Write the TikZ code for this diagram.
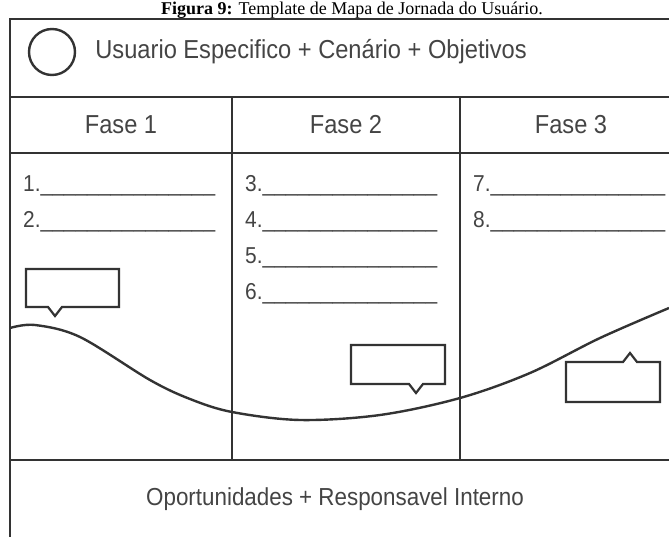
\documentclass[tikz,border=0pt]{standalone}
\usepackage{fontspec}
\newfontfamily\condensada[FakeStretch=0.91]{Liberation Sans}
\newfontfamily\serifa{Liberation Serif}
\usetikzlibrary{positioning}

\definecolor{traco}{HTML}{333333}
\definecolor{texto}{HTML}{444444}

\newcommand{\linha}{\_\_\_\_\_\_\_\_\_\_\_\_\_\_\_}

\begin{document}
\begin{tikzpicture}[x=1pt,y=-1pt,
grade/.style={draw=traco,line width=2.4pt},
balao/.style={draw=traco,line width=2.2pt,line join=miter},
rotulo/.style={text=texto,inner sep=0pt,font=\condensada\fontsize{26}{30}\selectfont},
fase/.style={rotulo},
item/.style={text=texto,inner sep=0pt,anchor=west,font=\condensada\fontsize{23}{27}\selectfont}]
\useasboundingbox (0,0) rectangle (669,537);
\clip (0,0) rectangle (669,537);

% legenda no alto
\node [anchor=base,font=\serifa\fontsize{18}{22}\selectfont] (legenda) at (352,15)
  {\textbf{Figura 9:} Template de Mapa de Jornada do Usuário.};

% grade
\draw [grade] (10,537) -- (10,19) -- (669,19);
\draw [grade] (10,97) -- (669,97);
\draw [grade] (10,153) -- (669,153);
\draw [grade] (10,460) -- (669,460);
\draw [grade] (232,97) -- (232,460);
\draw [grade] (460,97) -- (460,460);

\node [draw=traco,line width=2.4pt,circle,minimum size=46pt,inner sep=0pt] (persona) at (52,52) {};
\node [rotulo,anchor=west] (usuario) [right=19pt of persona] {Usuario Especifico + Cenário + Objetivos};

\node [fase] (fase1) at (121,125) {Fase 1};
\node [fase] (fase2) at (346,125) {Fase 2};
\node [fase] (fase3) at (571,125) {Fase 3};

\node [item] (passo1) at (23,186) {1.\linha};
\node [item] (passo2) [below=36pt of passo1.west,anchor=west] {2.\linha};

\node [item] (passo3) at (245,186) {3.\linha};
\node [item] (passo4) [below=36pt of passo3.west,anchor=west] {4.\linha};
\node [item] (passo5) [below=36pt of passo4.west,anchor=west] {5.\linha};
\node [item] (passo6) [below=36pt of passo5.west,anchor=west] {6.\linha};

\node [item] (passo7) at (473,186) {7.\linha};
\node [item] (passo8) [below=36pt of passo7.west,anchor=west] {8.\linha};

% curva da experiencia
\draw [grade] plot [smooth,tension=0.55] coordinates
  {(10,328) (35,325) (80,337) (150,380) (190,399) (232,412) (300,420) (380,415) (460,398) (530,373) (600,338) (669,308)};

% baloes
\draw [balao] (26,269) -- (119,269) -- (119,307) -- (62,307) -- (55,316) -- (48,307) -- (26,307) -- cycle;
\draw [balao] (351,345) -- (445,345) -- (445,384) -- (423,384) -- (416,393) -- (409,384) -- (351,384) -- cycle;
\draw [balao] (566,362) -- (623,362) -- (630,353) -- (637,362) -- (660,362) -- (660,402) -- (566,402) -- cycle;

\node [rotulo,font=\condensada\fontsize{24.6}{28}\selectfont] (oportunidades) at (335,499) {Oportunidades + Responsavel Interno};
\end{tikzpicture}
\end{document}
